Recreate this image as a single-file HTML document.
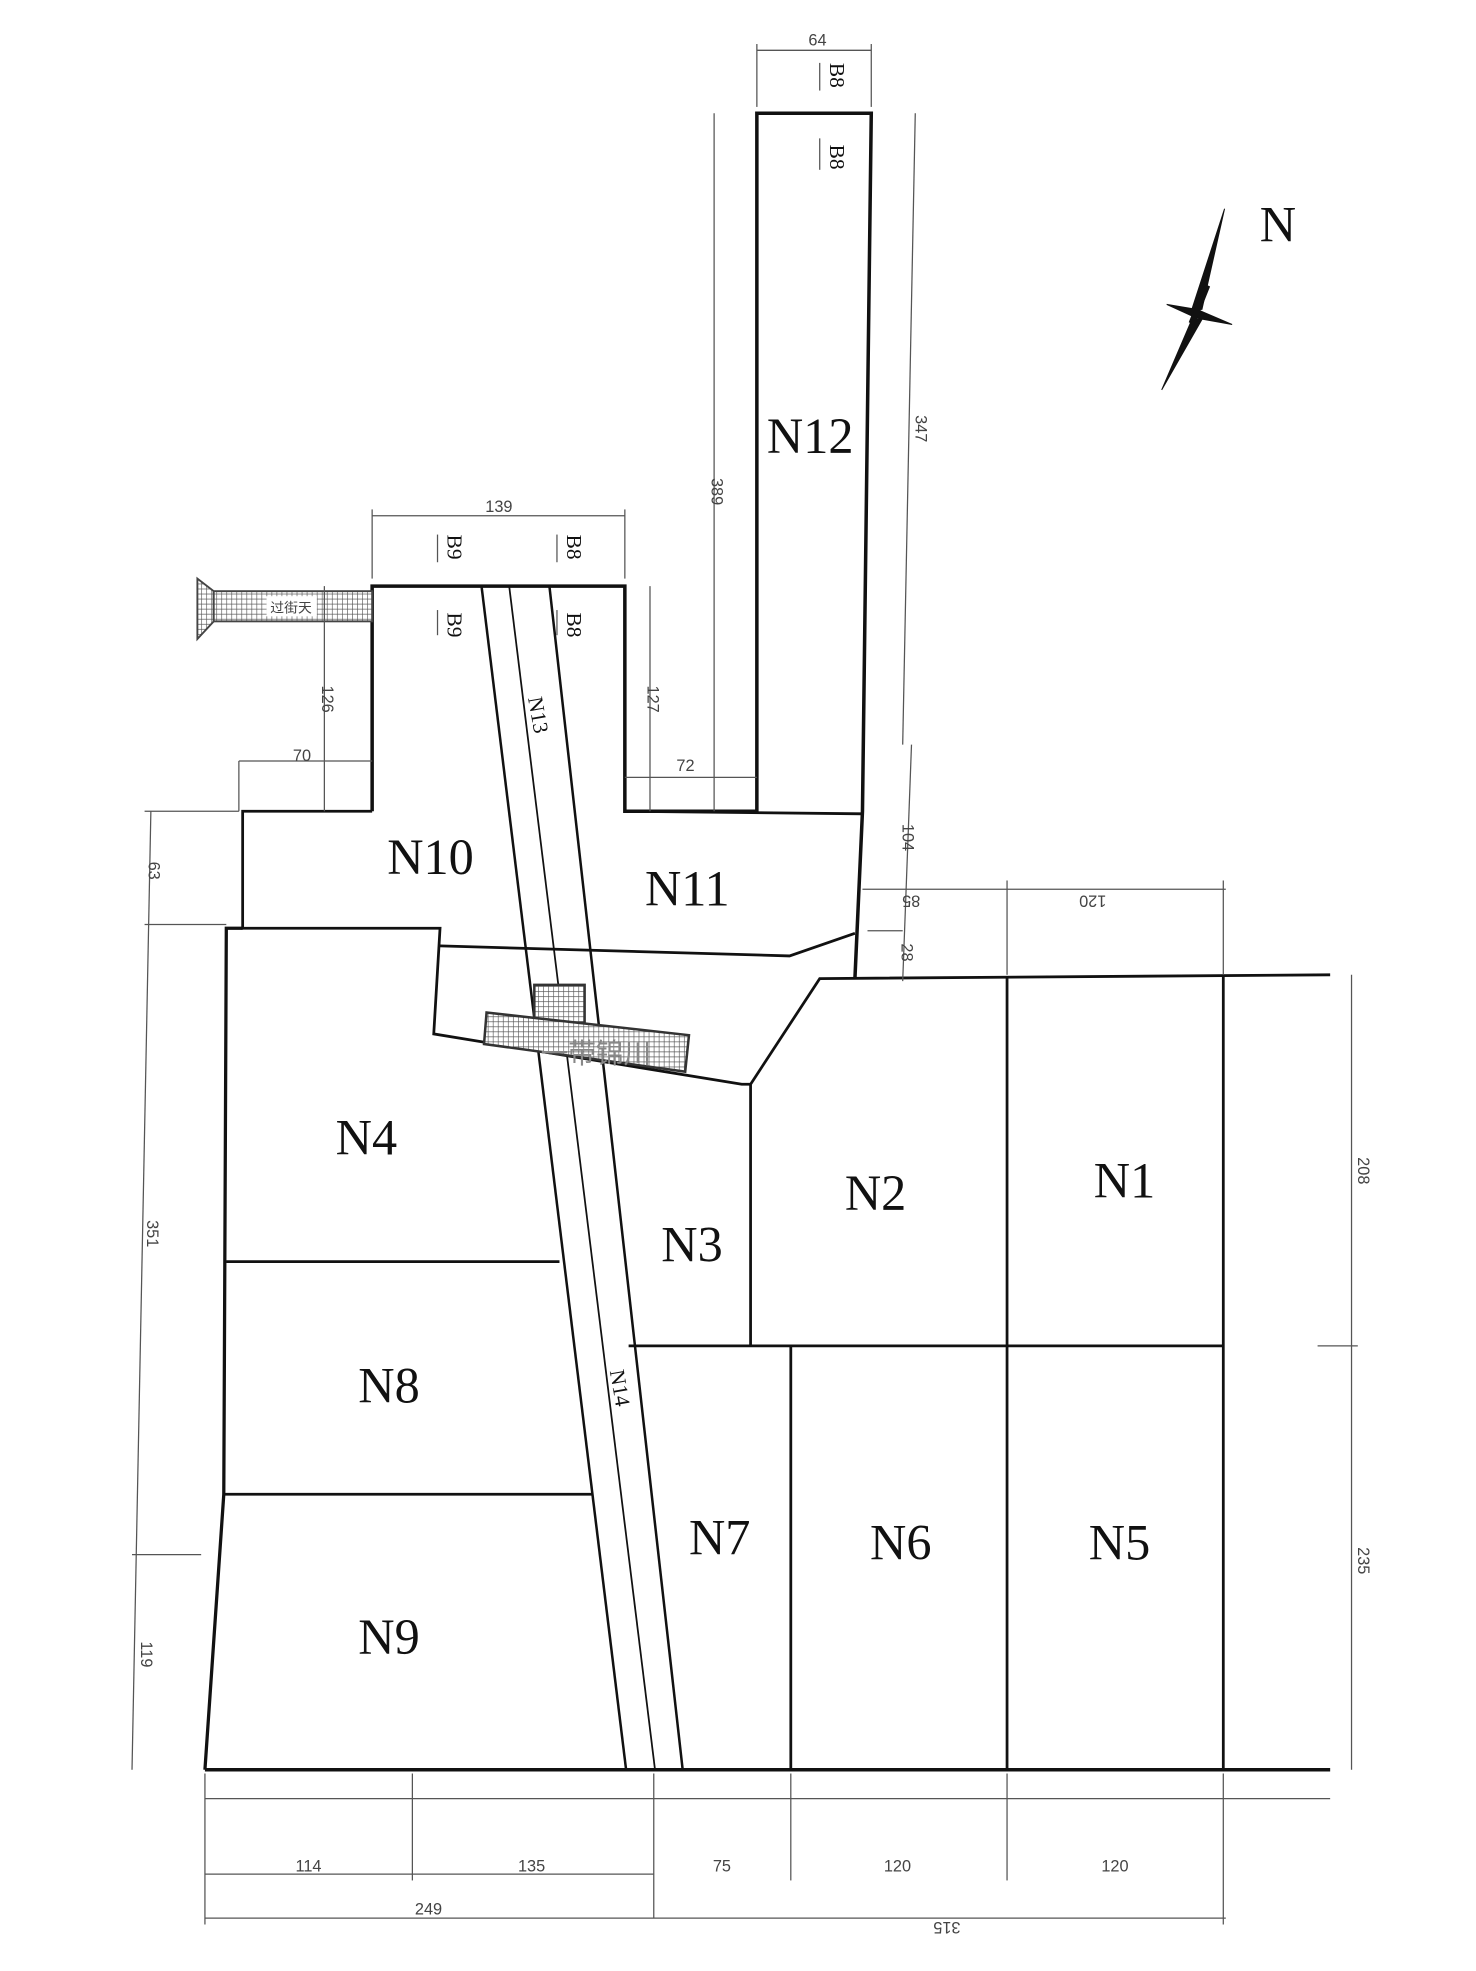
<!DOCTYPE html>
<html><head><meta charset="utf-8"><style>
html,body{margin:0;padding:0;background:#fff}
svg{display:block}
text{font-family:"Liberation Serif",serif;fill:#111}
.big{font-size:40px}
.dim{font-family:"Liberation Sans",sans-serif;font-size:13px;fill:#444}
</style></head><body>
<svg width="1476" height="1971" viewBox="0 0 1174 1567" preserveAspectRatio="none" xmlns="http://www.w3.org/2000/svg">
<defs>
<pattern id="h" width="4" height="4" patternUnits="userSpaceOnUse"><rect width="4" height="4" fill="#fff"/><path d="M0 0H4M0 0V4" stroke="#555" stroke-width="1"/></pattern>
</defs>
<g fill="none" stroke="#111" stroke-width="2.2">
<line x1="163" y1="1407" x2="1058" y2="1407" stroke-width="2.8"/>
<polyline points="1058,775 652,778 597,862 597,1070"/>
<line x1="500" y1="1070" x2="973" y2="1070"/>
<line x1="801" y1="777" x2="801" y2="1407"/>
<line x1="973" y1="775" x2="973" y2="1407"/>
<line x1="629" y1="1070" x2="629" y2="1407"/>
<polyline points="193,738 180,738 178,1188 163,1407" stroke-width="2.6"/>
<line x1="180" y1="1003" x2="445" y2="1003"/>
<line x1="178" y1="1188" x2="472" y2="1188"/>
<polyline points="296,645 296,466 497,466 497,645 602,645 602,90 693,90 686,645 680,778" stroke-width="2.8"/>
<polyline points="296,645 193,645 193,738 350,738 345,822 590,862 597,862"/>
<polyline points="350,752 628,760 680,742"/>
<line x1="497" y1="645" x2="686" y2="647"/>
<line x1="383" y1="466" x2="498" y2="1407" stroke-width="2"/>
<line x1="405" y1="466" x2="521" y2="1407" stroke-width="1.4"/>
<line x1="437" y1="466" x2="543" y2="1407" stroke-width="2"/>
</g>
<g stroke="#333" stroke-width="2" fill="url(#h)">
<rect x="425" y="783" width="40" height="30"/>
<polygon points="387,805 548,823 545,852 385,830"/>
</g>
<text x="430" y="845" style="font-family:'Noto Sans CJK SC',sans-serif;font-size:22px;fill:#888">一带锦川</text>
<g stroke="#444" stroke-width="1.5">
<polygon points="157,460 170,470 170,494 157,508" fill="url(#h)"/>
<rect x="170" y="470" width="126" height="24" fill="url(#h)"/>
<rect x="212" y="474" width="40" height="16" fill="#fff" stroke="none"/>
</g>
<text x="215" y="487" class="dim" style="font-size:11px">过街天</text>
<g stroke="#555" stroke-width="1" fill="none">
<line x1="163" y1="1430" x2="1058" y2="1430"/><line x1="163" y1="1490" x2="520" y2="1490"/>
<line x1="163" y1="1525" x2="975" y2="1525"/><line x1="520" y1="1525" x2="520" y2="1410"/>
<line x1="163" y1="1410" x2="163" y2="1530"/><line x1="328" y1="1410" x2="328" y2="1495"/>
<line x1="629" y1="1410" x2="629" y2="1495"/><line x1="801" y1="1410" x2="801" y2="1495"/><line x1="973" y1="1410" x2="973" y2="1530"/>
<line x1="1075" y1="775" x2="1075" y2="1407"/><line x1="1048" y1="1070" x2="1080" y2="1070"/>
<line x1="120" y1="645" x2="105" y2="1407"/><line x1="115" y1="645" x2="190" y2="645"/><line x1="115" y1="735" x2="180" y2="735"/><line x1="105" y1="1236" x2="160" y2="1236"/>
<line x1="258" y1="466" x2="258" y2="645"/><line x1="190" y1="605" x2="296" y2="605"/><line x1="190" y1="605" x2="190" y2="645"/>
<line x1="296" y1="410" x2="497" y2="410"/><line x1="296" y1="405" x2="296" y2="460"/><line x1="497" y1="405" x2="497" y2="460"/>
<line x1="517" y1="466" x2="517" y2="645"/><line x1="497" y1="618" x2="602" y2="618"/>
<line x1="568" y1="90" x2="568" y2="645"/><line x1="602" y1="40" x2="693" y2="40"/><line x1="602" y1="35" x2="602" y2="85"/><line x1="693" y1="35" x2="693" y2="85"/>
<line x1="728" y1="90" x2="718" y2="592"/><line x1="725" y1="592" x2="718" y2="780"/>
<line x1="686" y1="707" x2="975" y2="707"/><line x1="801" y1="700" x2="801" y2="775"/><line x1="973" y1="700" x2="973" y2="775"/>
<line x1="690" y1="740" x2="718" y2="740"/>
<line x1="652" y1="50" x2="652" y2="72"/><line x1="652" y1="110" x2="652" y2="135"/>
<line x1="348" y1="425" x2="348" y2="447"/><line x1="348" y1="485" x2="348" y2="505"/>
<line x1="443" y1="425" x2="443" y2="447"/><line x1="443" y1="485" x2="443" y2="505"/>
</g>
<g class="dim">
<text x="235" y="1488" class="dim">114</text><text x="412" y="1488" class="dim">135</text><text x="567" y="1488" class="dim">75</text>
<text x="703" y="1488" class="dim">120</text><text x="876" y="1488" class="dim">120</text>
<text x="330" y="1522" class="dim">249</text><text x="740" y="1538" class="dim" transform="rotate(180 752 1533)">315</text>
<text x="386" y="407" class="dim">139</text><text x="643" y="36" class="dim">64</text>
<text x="233" y="605" class="dim">70</text><text x="538" y="613" class="dim">72</text>
<text x="1080" y="920" class="dim" transform="rotate(90 1080 920)">208</text>
<text x="1080" y="1230" class="dim" transform="rotate(90 1080 1230)">235</text>
<text x="728" y="330" class="dim" transform="rotate(90 728 330)">347</text>
<text x="566" y="380" class="dim" transform="rotate(90 566 380)">389</text>
<text x="515" y="545" class="dim" transform="rotate(90 515 545)">127</text>
<text x="256" y="545" class="dim" transform="rotate(90 256 545)">126</text>
<text x="718" y="655" class="dim" transform="rotate(90 718 655)">104</text>
<text x="717" y="750" class="dim" transform="rotate(90 717 750)">28</text>
<text x="117" y="970" class="dim" transform="rotate(90 117 970)">351</text>
<text x="112" y="1305" class="dim" transform="rotate(90 112 1305)">119</text>
<text x="118" y="685" class="dim" transform="rotate(90 118 685)">63</text>
<text x="748" y="712" class="dim" transform="rotate(180 740 712)">85</text>
<text x="890" y="712" class="dim" transform="rotate(180 885 712)">120</text>
</g>
<g class="dim" style="font-size:17px">
<text x="660" y="50" transform="rotate(90 660 50)">B8</text><text x="660" y="115" transform="rotate(90 660 115)">B8</text>
<text x="356" y="425" transform="rotate(90 356 425)">B9</text><text x="356" y="487" transform="rotate(90 356 487)">B9</text>
<text x="451" y="425" transform="rotate(90 451 425)">B8</text><text x="451" y="487" transform="rotate(90 451 487)">B8</text>
<text x="420" y="555" transform="rotate(80 420 555)">N13</text>
<text x="485" y="1090" transform="rotate(80 485 1090)">N14</text>
</g>
<g class="big">
<text x="610" y="360">N12</text><text x="308" y="695">N10</text><text x="513" y="720">N11</text>
<text x="267" y="918">N4</text><text x="672" y="962">N2</text><text x="870" y="952">N1</text>
<text x="526" y="1003">N3</text><text x="285" y="1115">N8</text><text x="548" y="1236">N7</text>
<text x="692" y="1240">N6</text><text x="866" y="1240">N5</text><text x="285" y="1315">N9</text>
<text x="1002" y="192">N</text>
</g>
<g fill="#111" stroke="#111" stroke-width="0.8">
<polygon points="974,166 956,246 948,246"/>
<polygon points="924,310 948,254 956,254"/>
<polygon points="928,242 952,246 952,253"/>
<polygon points="980,258 952,253 952,246"/>
<polygon points="958,226 962,228 950,258 946,256"/>
</g>
</svg>
</body></html>
